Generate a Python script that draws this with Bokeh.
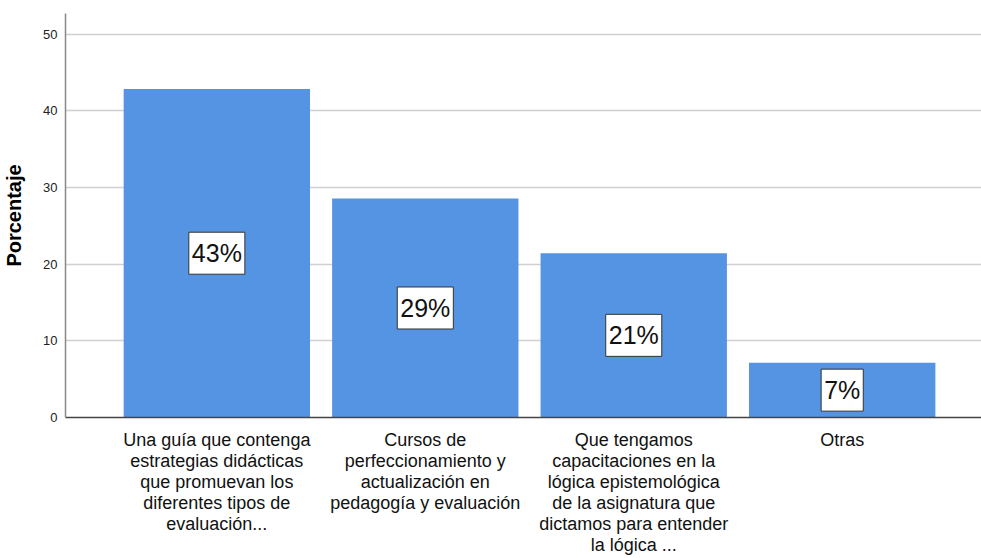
from bokeh.plotting import figure
from bokeh.models import ColumnDataSource, Label, FixedTicker
from bokeh.embed import file_html
from bokeh.resources import INLINE

categories = [
    "Una guía que contenga\nestrategias didácticas\nque promuevan los\ndiferentes tipos de\nevaluación...",
    "Cursos de\nperfeccionamiento y\nactualización en\npedagogía y evaluación",
    "Que tengamos\ncapacitaciones en la\nlógica epistemológica\nde la asignatura que\ndictamos para entender\nla lógica ...",
    "Otras",
]
percent = [42.86, 28.57, 21.43, 7.14]
bar_labels = ["43%", "29%", "21%", "7%"]
positions = [1, 2, 3, 4]
y_ticks = [0, 10, 20, 30, 40, 50]

FONT = "Liberation Sans"

src = ColumnDataSource(dict(x=positions, top=percent))

p = figure(width=982, height=557, x_range=(0.274, 4.673), y_range=(0, 52.7),
           output_backend="svg", toolbar_location=None,
           min_border_left=58, min_border_top=13, min_border_bottom=133, min_border_right=0)
p.outline_line_color = None

p.vbar(x="x", top="top", width=0.894, source=src, fill_color="#5494E2", line_color=None)

for xpos, val, lab in zip(positions, percent, bar_labels):
    p.add_layout(Label(x=xpos, y=val / 2, text=lab, text_align="center",
                       text_baseline="middle", text_font=FONT, text_font_size="25px",
                       text_color="#111111", background_fill_color="white",
                       border_line_color="#333333", border_line_width=1,
                       padding=(3, 7)))

p.xgrid.grid_line_color = None
p.ygrid.grid_line_color = "#d0d0d0"
p.ygrid.grid_line_width = 1.5

p.yaxis.ticker = FixedTicker(ticks=y_ticks)
p.yaxis.axis_label = "Porcentaje"
p.yaxis.axis_label_text_font = FONT
p.yaxis.axis_label_text_font_size = "20px"
p.yaxis.axis_label_text_font_style = "bold"
p.yaxis.axis_label_text_color = "#000000"
p.yaxis.axis_label_standoff = 15
p.yaxis.major_label_text_font = FONT
p.yaxis.major_label_text_font_size = "13px"
p.yaxis.major_label_text_color = "#222222"
p.yaxis.major_label_standoff = 8
p.yaxis.major_tick_line_color = None
p.yaxis.major_tick_out = 0
p.yaxis.major_tick_in = 0
p.yaxis.minor_tick_line_color = None
p.yaxis.axis_line_color = "#888888"
p.yaxis.axis_line_width = 1.5

p.xaxis.ticker = FixedTicker(ticks=positions)
p.xaxis.major_label_overrides = {pos: cat for pos, cat in zip(positions, categories)}
p.xaxis.major_label_text_font = FONT
p.xaxis.major_label_text_font_size = "18px"
p.xaxis.major_label_text_line_height = 1.05
p.xaxis.major_label_text_color = "#111111"
p.xaxis.major_label_standoff = 12
p.xaxis.major_tick_line_color = None
p.xaxis.major_tick_out = 0
p.xaxis.major_tick_in = 0
p.xaxis.minor_tick_line_color = None
p.xaxis.axis_line_color = "#444444"
p.xaxis.axis_line_width = 1.5

open("out.html", "w").write(file_html(p, INLINE))
